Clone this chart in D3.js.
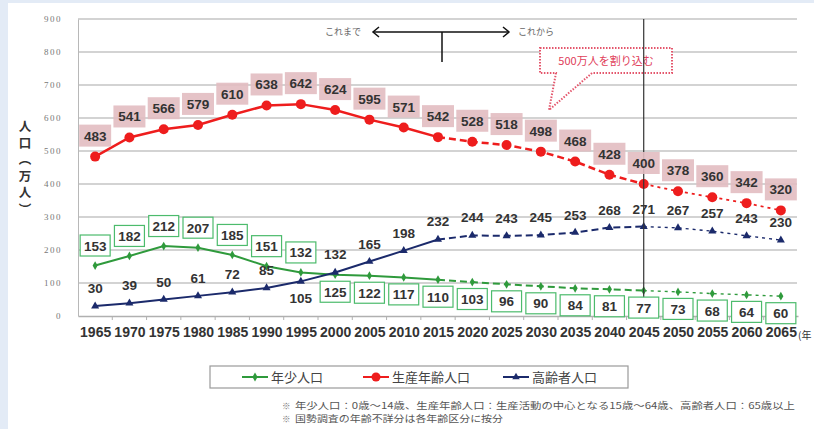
<!DOCTYPE html>
<html>
<head>
<meta charset="utf-8">
<script src="https://cdn.jsdelivr.net/npm/d3@7"></script>
<style>
  body { margin: 0; background: #e3ebf6; }
  svg { display: block; }
</style>
</head>
<body>
<div id="chart"></div>
<script>
    // data (万人)
    const years = ["1965","1970","1975","1980","1985","1990","1995","2000","2005","2010","2015",
                   "2020","2025","2030","2035","2040","2045","2050","2055","2060","2065"];
    const youth   = [153,182,212,207,185,151,132,125,122,117,110,103,96,90,84,81,77,73,68,64,60];
    const working = [483,541,566,579,610,638,642,624,595,571,542,528,518,498,468,428,400,378,360,342,320];
    const elderly = [30,39,50,61,72,85,105,132,165,198,232,244,243,245,253,268,271,267,257,243,230];
    const yTicks = [0,100,200,300,400,500,600,700,800,900];

    const legendNames = ["年少人口", "生産年齢人口", "高齢者人口"];
    const notes = [
      "年少人口：0歳～14歳、生産年齢人口：生産活動の中心となる15歳～64歳、高齢者人口：65歳以上",
      "国勢調査の年齢不詳分は各年齢区分に按分"
    ];

    //Color Palette
    var greenColor = "#2f9a3c";
    var redColor = "#ee1d1d";
    var blueColor = "#1b2a6b";
    var pinkBox = "#e2bdc1";
    var gridColor = "#c4c4c4";
    var textGrey = "#333";

    const W = 814, H = 429;
    const lastReal = 10;   // 2015, end of actual figures
    const cut = 16;        // 2045

    const svg = d3.select("#chart")
      .append("svg")
      .attr("width", W)
      .attr("height", H)
      .style("font-family", "'Liberation Sans', Arial, sans-serif");

    // white panel
    svg.append("rect")
      .attr("x", 8).attr("y", 3)
      .attr("width", W - 8).attr("height", H - 3)
      .attr("fill", "white");

    const x = d3.scalePoint().domain(years).range([78, 798]).padding(0.5);
    const y = d3.scaleLinear().domain([0, 900]).range([316, 19]);
    const step = x.step();

    // grid
    svg.append("g")
      .selectAll("line")
      .data(yTicks.slice(1))
      .enter()
      .append("line")
      .attr("x1", 78).attr("x2", 797)
      .attr("y1", d => y(d)).attr("y2", d => y(d))
      .attr("stroke", gridColor)
      .attr("stroke-width", 1.3);

    // y axis
    const yAxis = svg.append("g")
      .attr("transform", "translate(78,0)")
      .call(d3.axisLeft(y).tickValues(yTicks).tickSize(0).tickPadding(16));
    yAxis.select(".domain").attr("stroke", "#b8b8b8");
    yAxis.selectAll("text")
      .style("font-size", "9px")
      .style("letter-spacing", "1.5px")
      .style("font-family", "'Liberation Serif', serif")
      .attr("fill", "#777");

    // x axis
    const xAxis = svg.append("g")
      .attr("transform", "translate(0,316)")
      .call(d3.axisBottom(x).tickSize(0).tickPadding(11));
    xAxis.select(".domain").attr("stroke", "#b0b0b0").attr("stroke-width", 1.3);
    xAxis.selectAll("text")
      .style("font-size", "14px")
      .style("font-weight", "bold")
      .attr("fill", textGrey);
    // small ticks between categories
    svg.append("g")
      .selectAll("line")
      .data(years.slice(0, -1))
      .enter()
      .append("line")
      .attr("x1", d => x(d) + step / 2).attr("x2", d => x(d) + step / 2)
      .attr("y1", 316).attr("y2", 320)
      .attr("stroke", "#b0b0b0");
    svg.append("text")
      .attr("x", 798).attr("y", 339)
      .style("font-family", "'Noto Sans CJK JP', sans-serif")
      .style("font-size", "10px")
      .attr("fill", textGrey)
      .text("(年");

    // y axis title, vertical writing
    svg.append("text")
      .attr("x", 25).attr("y", 120)
      .style("writing-mode", "vertical-rl")
      .style("font-family", "'Noto Sans CJK JP', sans-serif")
      .style("font-size", "12.5px")
      .style("font-weight", "bold")
      .style("letter-spacing", "4px")
      .attr("fill", textGrey)
      .text("人口（万人）");

    // これまで / これから annotation
    const ann = svg.append("g");
    ann.append("line")
      .attr("x1", 373).attr("x2", 509).attr("y1", 32).attr("y2", 32)
      .attr("stroke", "#111").attr("stroke-width", 1.5);
    ann.append("path")
      .attr("d", "M379,27 L373,32 L379,37 M503,27 L509,32 L503,37")
      .attr("fill", "none").attr("stroke", "#111").attr("stroke-width", 1.5);
    ann.append("line")
      .attr("x1", 442).attr("x2", 442).attr("y1", 32).attr("y2", 62)
      .attr("stroke", "#111").attr("stroke-width", 1.5);
    ann.append("text")
      .attr("x", 343).attr("y", 35).attr("text-anchor", "middle")
      .style("font-family", "'Noto Sans CJK JP', sans-serif")
      .style("font-size", "9px").attr("fill", "#666")
      .text("これまで");
    ann.append("text")
      .attr("x", 536).attr("y", 35).attr("text-anchor", "middle")
      .style("font-family", "'Noto Sans CJK JP', sans-serif")
      .style("font-size", "9px").attr("fill", "#666")
      .text("これから");

    // callout box
    svg.append("path")
      .attr("d", "M540,48 L672,48 L672,73 L592,73 L549,110 L556,73 L540,73 Z")
      .attr("fill", "white")
      .attr("stroke", "#e4566c")
      .attr("stroke-width", 2)
      .attr("stroke-dasharray", "1.5,1.5");
    svg.append("text")
      .attr("x", 606).attr("y", 65).attr("text-anchor", "middle")
      .style("font-family", "'Noto Sans CJK JP', sans-serif")
      .style("font-size", "11px")
      .attr("fill", "#e0405a")
      .text("500万人を割り込む");

    // lines: solid until 2015, dashed until 2045, fine dash after
    function drawSeries(vals, color, width) {
      const line = d3.line().x(d => x(d.year)).y(d => y(d.v));
      const pts = vals.map((v, i) => ({ year: years[i], v: v }));
      const parts = [
        { data: pts.slice(0, lastReal + 1), dash: null, w: width },
        { data: pts.slice(lastReal, cut + 1), dash: "7,4", w: width },
        { data: pts.slice(cut), dash: "3,4", w: width * 0.7 }
      ];
      parts.forEach(p => {
        svg.append("path")
          .datum(p.data)
          .attr("d", line)
          .attr("fill", "none")
          .attr("stroke", color)
          .attr("stroke-width", p.w)
          .attr("stroke-dasharray", p.dash);
      });
      return pts;
    }

    const gPts = drawSeries(youth, greenColor, 2);
    const rPts = drawSeries(working, redColor, 2.5);
    const bPts = drawSeries(elderly, blueColor, 2);

    // markers
    svg.append("g").selectAll("path")
      .data(gPts).enter().append("path")
      .attr("d", d3.symbol().type(d3.symbolDiamond).size(22))
      .attr("transform", d => `translate(${x(d.year)},${y(d.v)})`)
      .attr("fill", greenColor);
    svg.append("g").selectAll("circle")
      .data(rPts).enter().append("circle")
      .attr("cx", d => x(d.year)).attr("cy", d => y(d.v))
      .attr("r", 5)
      .attr("fill", redColor);
    svg.append("g").selectAll("path")
      .data(bPts).enter().append("path")
      .attr("d", d3.symbol().type(d3.symbolTriangle).size(28))
      .attr("transform", d => `translate(${x(d.year)},${y(d.v)})`)
      .attr("fill", blueColor);

    // 2045 divider
    svg.append("line")
      .attr("x1", x("2045")).attr("x2", x("2045"))
      .attr("y1", 19).attr("y2", 316)
      .attr("stroke", "#333").attr("stroke-width", 1.2);

    // red labels in pink boxes
    const rLab = svg.append("g");
    rLab.selectAll("rect")
      .data(rPts).enter().append("rect")
      .attr("x", d => x(d.year) - 16).attr("y", d => y(d.v) - 32)
      .attr("width", 32).attr("height", 22)
      .attr("fill", pinkBox).attr("fill-opacity", 0.9);
    rLab.selectAll("text")
      .data(rPts).enter().append("text")
      .attr("x", d => x(d.year)).attr("y", d => y(d.v) - 16)
      .attr("text-anchor", "middle")
      .style("font-size", "13.5px").style("font-weight", "bold")
      .attr("fill", textGrey)
      .text(d => d.v);

    // green labels in boxes: above the point until 1995, below afterwards
    const gOff = d => (+d.year <= 1995 ? -20 : 17);
    const gLab = svg.append("g");
    gLab.selectAll("rect")
      .data(gPts).enter().append("rect")
      .attr("x", d => x(d.year) - 15).attr("y", d => y(d.v) + gOff(d) - 10.5)
      .attr("width", 30).attr("height", 21)
      .attr("fill", "white")
      .attr("stroke", "#4cbb6c").attr("stroke-width", 1.2);
    gLab.selectAll("text")
      .data(gPts).enter().append("text")
      .attr("x", d => x(d.year)).attr("y", d => y(d.v) + gOff(d) + 5)
      .attr("text-anchor", "middle")
      .style("font-size", "13.5px").style("font-weight", "bold")
      .attr("fill", textGrey)
      .text(d => d.v);

    // blue labels, plain text (1995 sits below the line)
    svg.append("g").selectAll("text")
      .data(bPts).enter().append("text")
      .attr("x", d => x(d.year))
      .attr("y", d => (d.year === "1995" ? y(d.v) + 22 : y(d.v) - 13))
      .attr("text-anchor", "middle")
      .style("font-size", "13.5px").style("font-weight", "bold")
      .attr("fill", textGrey)
      .text(d => d.v);

    // legend
    const legend = svg.append("g");
    legend.append("rect")
      .attr("x", 210).attr("y", 366).attr("width", 418).attr("height", 22)
      .attr("fill", "white").attr("stroke", "#9a9a9a").attr("stroke-width", 1.2);
    const legendItems = [
      { name: legendNames[0], color: greenColor, x0: 242, shape: "diamond" },
      { name: legendNames[1], color: redColor, x0: 363, shape: "circle" },
      { name: legendNames[2], color: blueColor, x0: 503, shape: "triangle" }
    ];
    legendItems.forEach(it => {
      legend.append("line")
        .attr("x1", it.x0).attr("x2", it.x0 + 26).attr("y1", 377).attr("y2", 377)
        .attr("stroke", it.color).attr("stroke-width", 2);
      if (it.shape === "circle") {
        legend.append("circle").attr("cx", it.x0 + 13).attr("cy", 377).attr("r", 4.5).attr("fill", it.color);
      } else {
        legend.append("path")
          .attr("d", d3.symbol().type(it.shape === "diamond" ? d3.symbolDiamond : d3.symbolTriangle).size(24))
          .attr("transform", `translate(${it.x0 + 13},377)`)
          .attr("fill", it.color);
      }
      legend.append("text")
        .attr("x", it.x0 + 29).attr("y", 382)
        .style("font-family", "'Noto Sans CJK JP', sans-serif")
        .style("font-size", "13px")
        .attr("fill", "#444")
        .text(it.name);
    });

    // footnotes
    const noteWidths = [500, 208];
    notes.forEach((t, i) => {
      svg.append("text")
        .attr("x", 282).attr("y", 409 + i * 13)
        .style("font-family", "'Noto Sans CJK JP', sans-serif")
        .style("font-size", "8.5px").attr("fill", "#777")
        .text("※");
      svg.append("text")
        .attr("x", 295).attr("y", 409 + i * 13)
        .attr("textLength", noteWidths[i])
        .attr("lengthAdjust", "spacingAndGlyphs")
        .style("font-family", "'Noto Sans CJK JP', sans-serif")
        .style("font-size", "9px").attr("fill", "#555")
        .text(t);
    });
</script>
</body>
</html>
